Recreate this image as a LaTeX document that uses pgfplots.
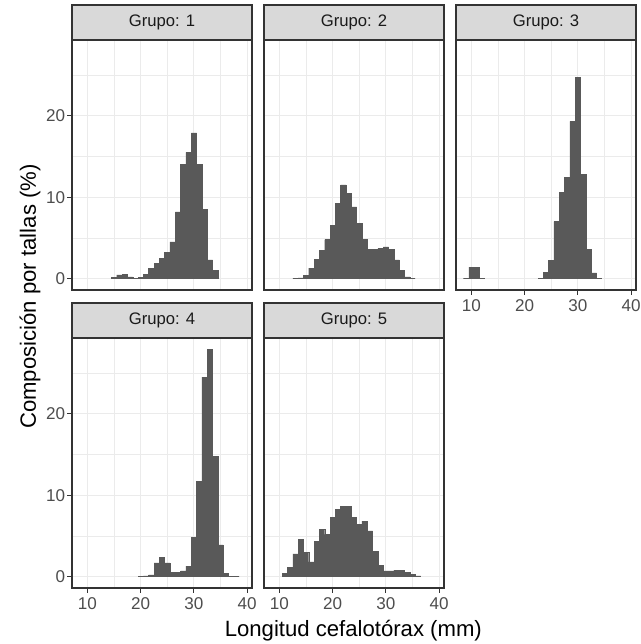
\documentclass[border=0pt]{standalone}
\usepackage{pgfplots}
\pgfplotsset{compat=1.18}
\usepackage{fontspec}
\setmainfont{Liberation Sans}
\definecolor{g35}{HTML}{595959}
\definecolor{g30}{HTML}{4D4D4D}
\definecolor{g20}{HTML}{333333}
\definecolor{g92}{HTML}{EBEBEB}
\definecolor{g85}{HTML}{D9D9D9}
\definecolor{g10}{HTML}{1A1A1A}
\pgfplotsset{
  panel/.style={
    scale only axis, width=135pt, height=187.5pt,
    xmin=7.1, xmax=40.9, ymin=-1.4, ymax=29.3,
    xtick={10,20,30,40}, ytick={0,10,20},
    minor xtick={15,25,35}, minor ytick={5,15,25},
    xmajorgrids, ymajorgrids, xminorgrids, yminorgrids,
    major grid style={draw=g92, line width=0.8pt},
    minor grid style={draw=g92, line width=0.4pt},
    axis line style={draw=g20, line width=0.8pt},
    tick align=outside, xtick pos=bottom, ytick pos=left,
    major tick length=3.75pt, minor tick length=0pt,
    major tick style={draw=g20, line width=0.8pt},
    minor tick style={draw=none},
    /pgf/number format/assume math mode=true,
    tick label style={font=\fontsize{12.8}{14}\selectfont, text=g30, inner sep=1.2pt},
    xticklabel style={yshift=-2pt},
    ybar, bar width=1, bar shift=0pt,
    clip=false, anchor=south west,
  },
  bars/.style={fill=g35, draw=g35, line width=0.3pt},
}
\newcommand{\strip}[1]{%
  \draw[fill=g85, draw=g20, line width=0.8pt] (rel axis cs:0,1) rectangle ([yshift=26.25pt]rel axis cs:1,1);
  \node[font=\fontsize{12.5}{14}\selectfont, text=g10] at ([yshift=13.1pt]rel axis cs:0.5,1) {Grupo: #1};}
\begin{document}
\begin{tikzpicture}
\useasboundingbox (0,0) rectangle (480.75pt,483pt);
% Panel 1
\begin{axis}[panel, at={(54pt,265.5pt)}, xmajorticks=false]
\addplot[bars] coordinates {(15,0.15)(16,0.45)(17,0.5)(18,0.2)(19,0.0)(20,0.15)(21,0.5)(22,1.3)(23,1.9)(24,2.5)(25,3.2)(26,4.5)(27,8.2)(28,14.0)(29,15.5)(30,17.9)(31,14.0)(32,8.5)(33,2.3)(34,1.0)};
\strip{1}
\end{axis}
% Panel 2
\begin{axis}[panel, at={(198pt,265.5pt)}, xmajorticks=false, ymajorticks=false]
\addplot[bars] coordinates {(13,0)(14,0.1)(15,0.4)(16,1.3)(17,2.4)(18,3.5)(19,4.8)(20,6.5)(21,9.2)(22,11.5)(23,10.5)(24,8.8)(25,6.8)(26,4.8)(27,3.6)(28,3.6)(29,3.7)(30,3.9)(31,3.6)(32,2.3)(33,1.0)(34,0.2)(35,0)};
\strip{2}
\end{axis}
% Panel 3
\begin{axis}[panel, at={(342pt,265.5pt)}, ymajorticks=false]
\addplot[bars] coordinates {(9,0)(10,1.4)(11,1.4)(12,0)(23,0)(24,0.8)(25,2.2)(26,7.0)(27,10.6)(28,12.4)(29,19.3)(30,24.7)(31,12.8)(32,3.6)(33,0.7)(34,0)};
\strip{3}
\end{axis}
% Panel 4
\begin{axis}[panel, at={(54pt,42pt)}]
\addplot[bars] coordinates {(20,0)(21,0.1)(22,0.2)(23,1.7)(24,2.4)(25,1.7)(26,0.5)(27,0.5)(28,0.7)(29,1.3)(30,4.8)(31,11.7)(32,24.5)(33,27.9)(34,14.8)(35,3.9)(36,0.4)(37,0)(38,0)};
\strip{4}
\end{axis}
% Panel 5
\begin{axis}[panel, at={(198pt,42pt)}, ymajorticks=false]
\addplot[bars] coordinates {(11,0.4)(12,1.1)(13,2.8)(14,4.6)(15,3.0)(16,1.8)(17,4.3)(18,5.8)(19,5.2)(20,7.3)(21,8.3)(22,8.6)(23,8.6)(24,7.3)(25,6.4)(26,6.8)(27,5.6)(28,3.1)(29,1.4)(30,0.7)(31,0.7)(32,0.8)(33,0.8)(34,0.5)(35,0.3)(36,0.1)};
\strip{5}
\end{axis}
\node[font=\fontsize{16.6}{18}\selectfont] at (265pt,9.75pt) {Longitud cefalotórax (mm)};
\node[font=\fontsize{16.6}{18}\selectfont, rotate=90] at (22.5pt,260.6pt) {Composición por tallas (\%)};
\end{tikzpicture}
\end{document}
